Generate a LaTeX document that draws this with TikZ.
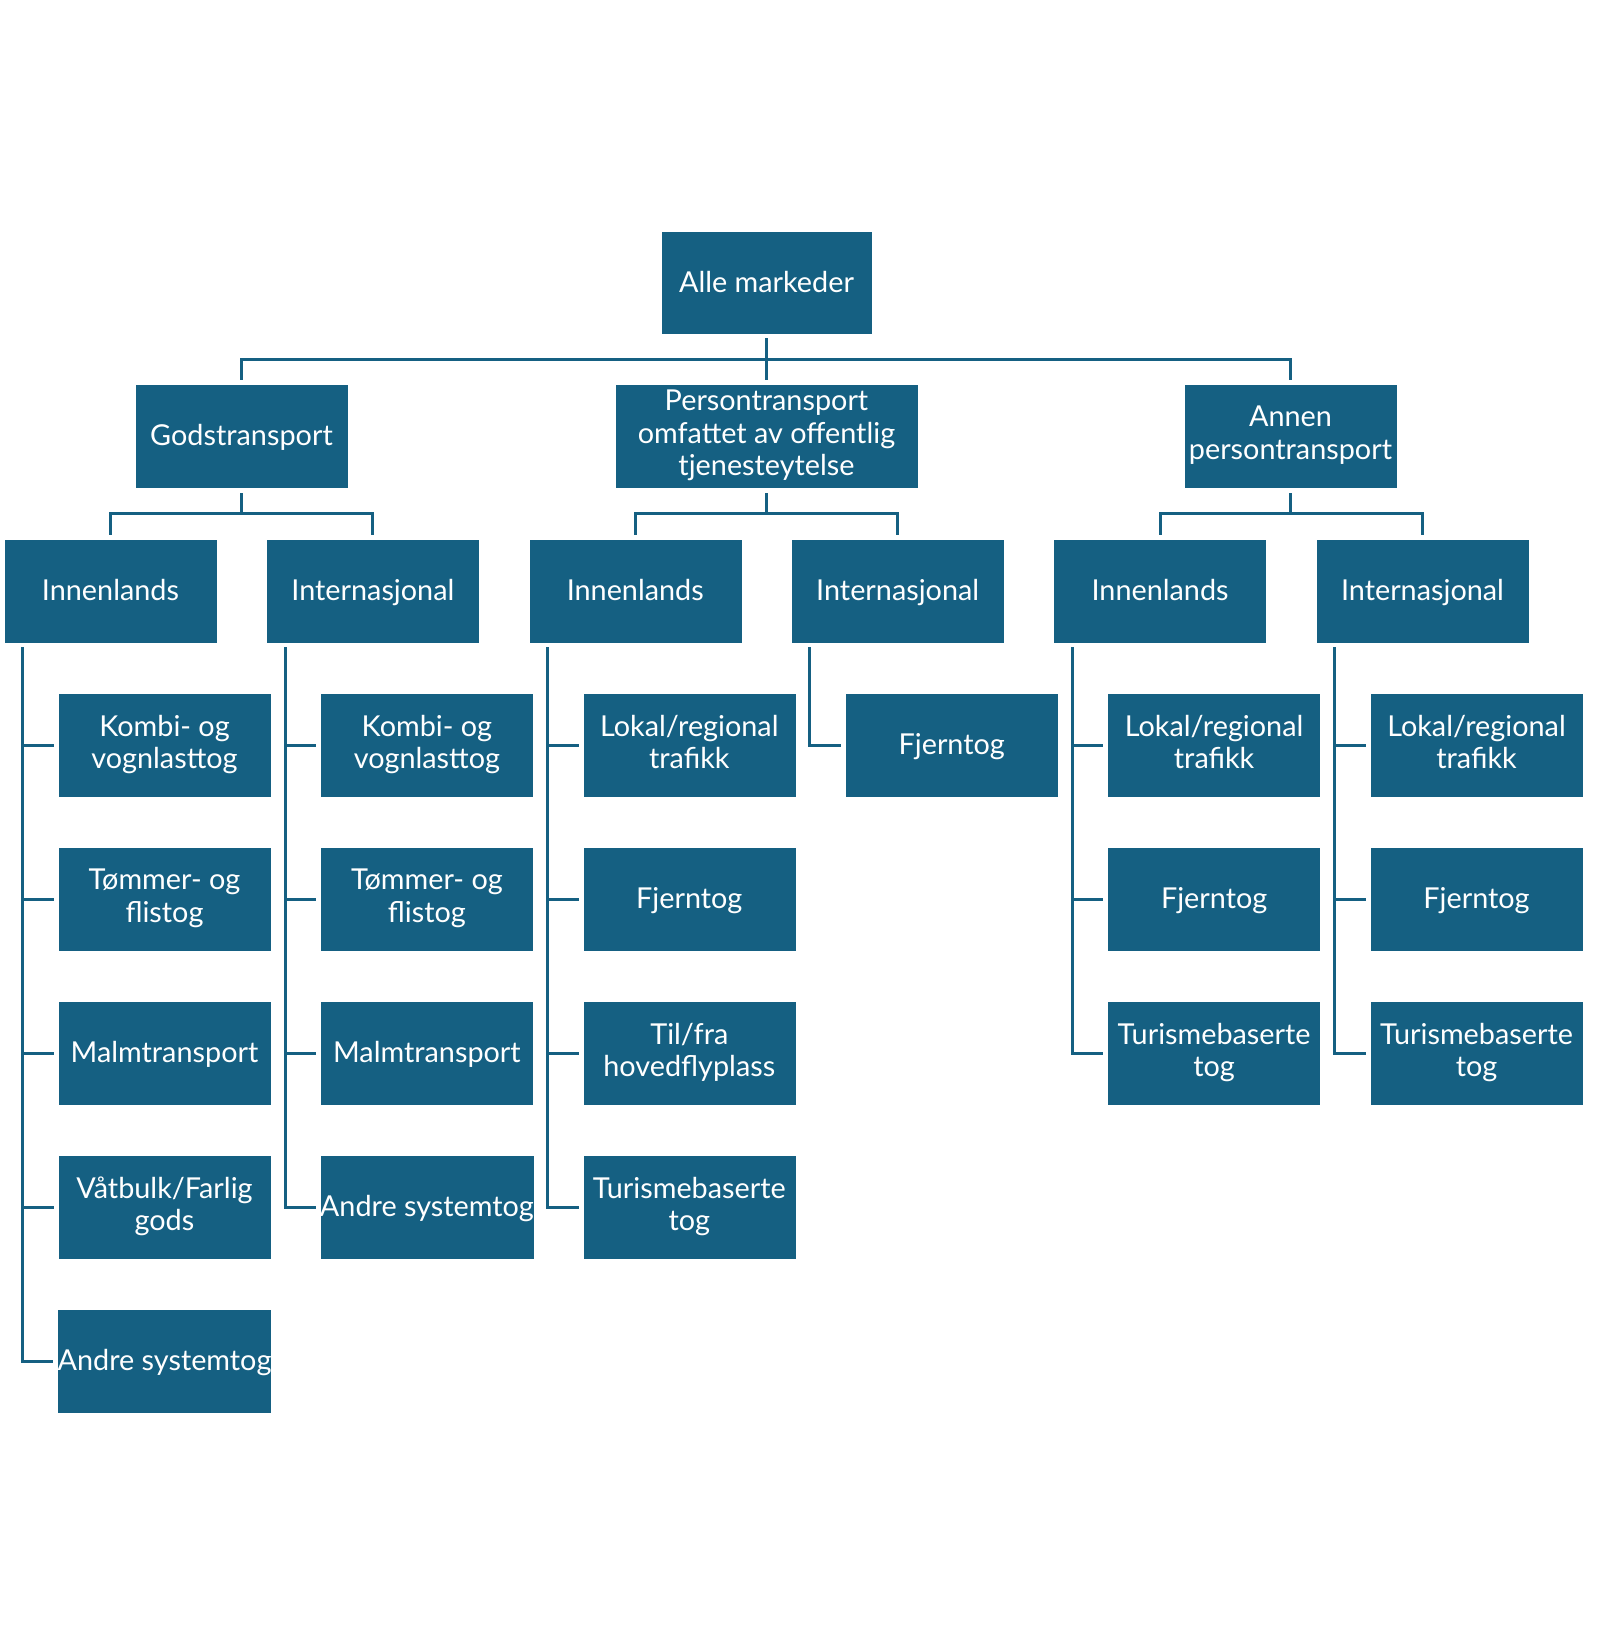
\documentclass[tikz,border=0pt]{standalone}
\usepackage{fontspec}
\setmainfont{Lato}
\usetikzlibrary{calc}
\definecolor{boxblue}{HTML}{156082}
\newcommand\boxstrut{\rule[-6.6pt]{0pt}{32.5pt}}
\tikzset{
  box/.style={fill=boxblue, draw=white, line width=0.6pt, text=white, inner sep=0pt,
    align=center, font=\fontsize{28.8}{32.5}\selectfont, minimum height=104pt, minimum width=213pt,
    execute at begin node=\boxstrut, execute at end node=\boxstrut},
  conn/.style={draw=boxblue, line width=3pt},
}
\begin{document}
\begin{tikzpicture}[x=1pt,y=-1pt]
\fill[white] (0,0) rectangle (1600,1642);
\useasboundingbox (0,0) rectangle (1600,1642);

% level 1
\node[box, minimum width=211pt, minimum height=103pt] (root) at (766.5,282.5) {Alle markeder};
% level 2
\node[box] (gods) at (241.5,436) {Godstransport};
\node[box, minimum width=303pt] (pso) at (766.5,436) {Persontransport\\omfattet av offentlig\\tjenesteytelse};
\node[box] (annen) at (1290.5,436) {Annen\\persontransport};
% level 3
\node[box] (c0) at (110.5,591) {Innenlands};
\node[box] (c1) at (372.9,591) {Internasjonal};
\node[box] (c2) at (635.3,591) {Innenlands};
\node[box] (c3) at (897.7,591) {Internasjonal};
\node[box] (c4) at (1160.1,591) {Innenlands};
\node[box] (c5) at (1422.5,591) {Internasjonal};
% leaves column 0
\node[box] (a1) at (164.5,745) {Kombi- og\\vognlasttog};
\node[box] (a2) at (164.5,899) {Tømmer- og\\flistog};
\node[box] (a3) at (164.5,1053) {Malmtransport};
\node[box] (a4) at (164.5,1207) {Våtbulk/Farlig\\gods};
\node[box] (a5) at (164.5,1361) {Andre systemtog};
% column 1
\node[box] (b1) at (426.9,745) {Kombi- og\\vognlasttog};
\node[box] (b2) at (426.9,899) {Tømmer- og\\flistog};
\node[box] (b3) at (426.9,1053) {Malmtransport};
\node[box] (b4) at (426.9,1207) {Andre systemtog};
% column 2
\node[box] (d1) at (689.3,745) {Lokal/regional\\trafikk};
\node[box] (d2) at (689.3,899) {Fjerntog};
\node[box] (d3) at (689.3,1053) {Til/fra\\hovedflyplass};
\node[box] (d4) at (689.3,1207) {Turismebaserte\\tog};
% column 3
\node[box] (e1) at (951.7,745) {Fjerntog};
% column 4
\node[box] (f1) at (1214.1,745) {Lokal/regional\\trafikk};
\node[box] (f2) at (1214.1,899) {Fjerntog};
\node[box] (f3) at (1214.1,1053) {Turismebaserte\\tog};
% column 5
\node[box] (h1) at (1476.5,745) {Lokal/regional\\trafikk};
\node[box] (h2) at (1476.5,899) {Fjerntog};
\node[box] (h3) at (1476.5,1053) {Turismebaserte\\tog};

% root -> level 2
\coordinate (busA) at (0,359);
\draw[conn] ([yshift=-4pt]root.south) -- (root.south |- busA);
\draw[conn] ([yshift=4pt]gods.north) |- (annen.north |- busA) -- ([yshift=4pt]annen.north);
\draw[conn] (pso.north |- busA) -- ([yshift=4pt]pso.north);

% level 2 -> level 3
\coordinate (busB) at (0,513);
\foreach \p/\l/\r in {gods/c0/c1, pso/c2/c3, annen/c4/c5}{
  \draw[conn] ([yshift=-5pt]\p.south) -- (\p.south |- busB);
  \draw[conn] ([yshift=4pt]\l.north) |- (\r.north |- busB) -- ([yshift=4pt]\r.north);
}

% spines and stubs
\foreach \c/\last/\others in {c0/a5/{a1,a2,a3,a4}, c1/b4/{b1,b2,b3}, c2/d4/{d1,d2,d3}, c4/f3/{f1,f2}, c5/h3/{h1,h2}}{
  \coordinate (sp) at ([xshift=19pt,yshift=-4pt]\c.south west);
  \draw[conn] (sp) |- ([xshift=-4pt]\last.west);
  \foreach \n in \others {
    \draw[conn] (sp |- \n.west) -- ([xshift=-4pt]\n.west);
  }
}
\coordinate (sp3) at ([xshift=19pt,yshift=-4pt]c3.south west);
\draw[conn] (sp3) |- ([xshift=-4pt]e1.west);
\end{tikzpicture}
\end{document}
